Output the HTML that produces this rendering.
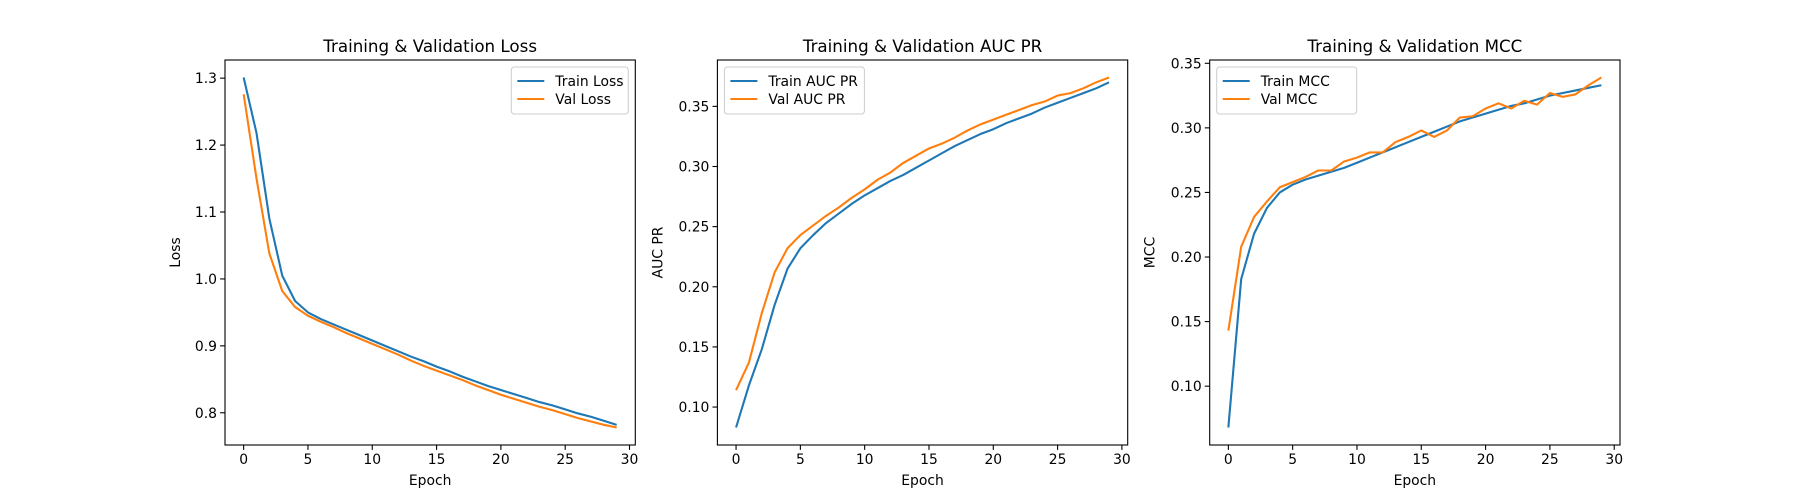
<!DOCTYPE html>
<html><head><meta charset="utf-8"><style>
body{margin:0;background:#fff;}
svg{display:block;font-family:"DejaVu Sans","Liberation Sans",sans-serif;}
</style></head><body>
<svg id="fig" width="1800" height="500" viewBox="0 0 1800 500"></svg>
<script>
const epochs = Array.from({length:30},(_,i)=>i);
const xTicks = [0,5,10,15,20,25,30];
const lossTrain = [1.301,1.218,1.09,1.005,0.967,0.950,0.940,0.932,0.924,0.916,0.908,0.900,0.892,0.884,0.877,0.869,0.862,0.854,0.847,0.840,0.834,0.828,0.822,0.816,0.811,0.805,0.799,0.794,0.788,0.782];
const lossVal = [1.276,1.15,1.038,0.982,0.958,0.945,0.936,0.928,0.919,0.911,0.903,0.895,0.887,0.878,0.870,0.863,0.856,0.849,0.841,0.834,0.827,0.821,0.815,0.809,0.804,0.798,0.792,0.787,0.782,0.778];
const lossTicks = [0.8,0.9,1.0,1.1,1.2,1.3];
const aucTrain = [0.083,0.118,0.148,0.185,0.215,0.232,0.243,0.253,0.261,0.269,0.276,0.282,0.288,0.293,0.299,0.305,0.311,0.317,0.322,0.327,0.331,0.336,0.340,0.344,0.349,0.353,0.357,0.361,0.365,0.370];
const aucVal = [0.114,0.137,0.178,0.212,0.232,0.243,0.251,0.259,0.266,0.274,0.281,0.289,0.295,0.303,0.309,0.315,0.319,0.324,0.330,0.335,0.339,0.343,0.347,0.351,0.354,0.359,0.361,0.365,0.370,0.374];
const aucTicks = [0.10,0.15,0.20,0.25,0.30,0.35];
const mccTrain = [0.068,0.183,0.218,0.238,0.250,0.256,0.260,0.263,0.266,0.269,0.273,0.277,0.281,0.285,0.289,0.293,0.297,0.301,0.305,0.308,0.311,0.314,0.317,0.319,0.322,0.325,0.327,0.329,0.331,0.333];
const mccVal = [0.143,0.208,0.231,0.243,0.254,0.258,0.262,0.267,0.267,0.274,0.277,0.281,0.281,0.289,0.293,0.298,0.293,0.298,0.308,0.309,0.315,0.319,0.315,0.321,0.318,0.327,0.324,0.326,0.333,0.339];
const mccTicks = [0.10,0.15,0.20,0.25,0.30,0.35];

const NS='http://www.w3.org/2000/svg';
const fig=document.getElementById('fig');
function mk(tag,attrs,parent){const e=document.createElementNS(NS,tag);for(const k in attrs)e.setAttribute(k,attrs[k]);(parent||fig).appendChild(e);return e;}

const panels=[
 {x0:225,title:'Training & Validation Loss',ylabel:'Loss',tr:lossTrain,va:lossVal,ticks:lossTicks,dec:1,labels:['Train Loss','Val Loss'],legRight:true,key:'loss'},
 {x0:717.4,title:'Training & Validation AUC PR',ylabel:'AUC PR',tr:aucTrain,va:aucVal,ticks:aucTicks,dec:2,labels:['Train AUC PR','Val AUC PR'],legRight:false,key:'auc-pr'},
 {x0:1209.7,title:'Training & Validation MCC',ylabel:'MCC',tr:mccTrain,va:mccVal,ticks:mccTicks,dec:2,labels:['Train MCC','Val MCC'],legRight:false,key:'mcc'}
];
const PW=410.3, yTop=60, yBot=445;
panels.forEach(p=>{
  const g=mk('g',{});
  
  
  const all=p.tr.concat(p.va);
  const mn=Math.min(...all), mx=Math.max(...all), m=(mx-mn)*0.05;
  const ylo=mn-m, yhi=mx+m;
  const xlo=-1.45, xhi=30.45;
  const X=v=>p.x0+(v-xlo)/(xhi-xlo)*PW;
  const Y=v=>yBot-(v-ylo)/(yhi-ylo)*(yBot-yTop);
  xTicks.forEach(t=>{
    mk('line',{x1:X(t),x2:X(t),y1:yBot,y2:yBot+4.9,stroke:'#000','stroke-width':1.1},g);
    const tx=mk('text',{x:X(t),y:yBot+19,'font-size':13.9,'text-anchor':'middle'},g);tx.textContent=t;
    
    
  });
  p.ticks.forEach(t=>{
    mk('line',{x1:p.x0-4.9,x2:p.x0,y1:Y(t),y2:Y(t),stroke:'#000','stroke-width':1.1},g);
    const tx=mk('text',{x:p.x0-8,y:Y(t)+5,'font-size':13.9,'text-anchor':'end'},g);tx.textContent=t.toFixed(p.dec);
    
    
  });
  const pts=a=>a.map((v,i)=>X(epochs[i]).toFixed(2)+','+Y(v).toFixed(2)).join(' ');
  const l1=mk('polyline',{points:pts(p.tr),fill:'none',stroke:'#1f77b4','stroke-width':2.1,'stroke-linejoin':'round'},g);
  
  
  const l2=mk('polyline',{points:pts(p.va),fill:'none',stroke:'#ff7f0e','stroke-width':2.1,'stroke-linejoin':'round'},g);
  
  
  mk('rect',{x:p.x0,y:yTop,width:PW,height:yBot-yTop,fill:'none',stroke:'#000','stroke-width':1.1},g);
  const ti=mk('text',{x:p.x0+PW/2,y:yTop-8,'font-size':16.7,'text-anchor':'middle'},g);ti.textContent=p.title;
  
  
  const xl=mk('text',{x:p.x0+PW/2,y:yBot+40,'font-size':13.9,'text-anchor':'middle'},g);xl.textContent='Epoch';
  
  
  const yc=(yTop+yBot)/2, yx=p.x0-(p.dec===1?45:55);
  const yl=mk('text',{x:yx,y:yc,'font-size':13.9,'text-anchor':'middle',transform:`rotate(-90 ${yx} ${yc})`},g);yl.textContent=p.ylabel;
  
  
  const lw=p.legRight?117:140;
  const lx=p.legRight?p.x0+PW-7-lw:p.x0+7;
  const leg=mk('g',{},g);
  
  
  mk('rect',{x:lx,y:67,width:lw,height:47,rx:3,fill:'#fff','fill-opacity':0.8,stroke:'#ccc','stroke-width':1},leg);
  [['#1f77b4',p.labels[0],81],['#ff7f0e',p.labels[1],99]].forEach(([c,t,yy])=>{
    mk('line',{x1:lx+6,x2:lx+33,y1:yy,y2:yy,stroke:c,'stroke-width':2.1},leg);
    const tt=mk('text',{x:lx+44,y:yy+5,'font-size':13.9},leg);tt.textContent=t;
    
    
  });
});
</script>
</body></html>
